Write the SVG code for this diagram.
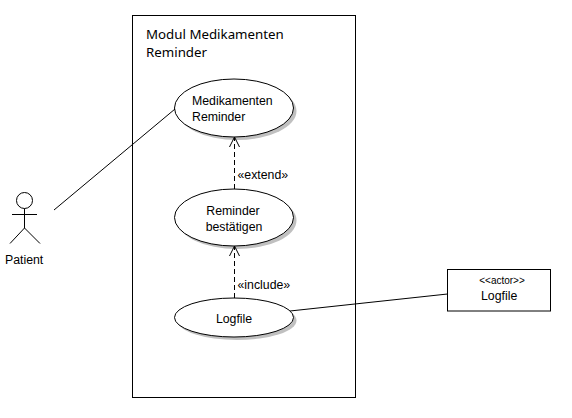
<svg xmlns="http://www.w3.org/2000/svg" width="572" height="418" viewBox="0 0 572 418">
<style>
text{font-family:"Liberation Sans",Arial,sans-serif;font-size:12.300px;fill:#000}
.title{font-family:"Noto Sans","Open Sans",sans-serif;font-size:13.300px}
.small{font-size:10px}
.m{text-anchor:middle}
.ln{fill:none;stroke:#000;stroke-width:1}
.dash{stroke-dasharray:5 3}
.sh{fill:#c0c0c0;stroke:none}
.uc{fill:#fff;stroke:#000;stroke-width:1}
</style>
<defs><marker id="open" markerUnits="userSpaceOnUse" markerWidth="14" markerHeight="14" refX="11" refY="6" orient="auto"><path d="M1 1 L11 6 L1 11" fill="none" stroke="#000"/></marker></defs>
<rect width="572" height="418" fill="#fff"/>
<g id="module"><rect x="132.500" y="15.500" width="223" height="382" fill="#fff" stroke="#000"/>
<text class="title" x="146" y="39">Modul Medikamenten</text><text class="title" x="146" y="57">Reminder</text></g>
<g id="uc1"><ellipse class="sh" cx="237" cy="111" rx="59.500" ry="29"/><ellipse class="uc" cx="234" cy="108" rx="59.500" ry="29"/>
<text x="192" y="105">Medikamenten</text><text x="192" y="121">Reminder</text></g>
<g id="uc2"><ellipse class="sh" cx="237" cy="220.500" rx="59.500" ry="28.500"/><ellipse class="uc" cx="234" cy="217.500" rx="59.500" ry="28.500"/>
<text class="m" x="233" y="215">Reminder</text><text class="m" x="234" y="231">bestätigen</text></g>
<g id="uc3"><ellipse class="sh" cx="237" cy="320.500" rx="59.500" ry="19.500"/><ellipse class="uc" cx="234" cy="317.500" rx="59.500" ry="19.500"/>
<text class="m" x="234" y="323">Logfile</text></g>
<g id="patient"><circle class="ln" cx="24.500" cy="200.500" r="8"/><path class="ln" d="M24.500 208.500V228M12 214.500H37M24.500 228L10 243.500M24.500 228L40 243.500"/>
<text x="5" y="264">Patient</text></g>
<g id="logfile"><rect x="447.500" y="269.500" width="103" height="41.500" fill="#fff" stroke="#000"/>
<text class="small m" x="502" y="284">&lt;&lt;actor&gt;&gt;</text><text x="481" y="300">Logfile</text></g>
<g id="connectors">
<line class="ln" x1="54" y1="210" x2="175" y2="109"/>
<line class="ln" x1="290" y1="311" x2="447.500" y2="294"/>
<line class="ln dash" x1="234.500" y1="189" x2="234.500" y2="137" marker-end="url(#open)"/>
<line class="ln dash" x1="234.500" y1="298" x2="234.500" y2="246" marker-end="url(#open)"/>
<text x="237.500" y="179">«extend»</text><text x="237.500" y="289">«include»</text>
</g>
</svg>
